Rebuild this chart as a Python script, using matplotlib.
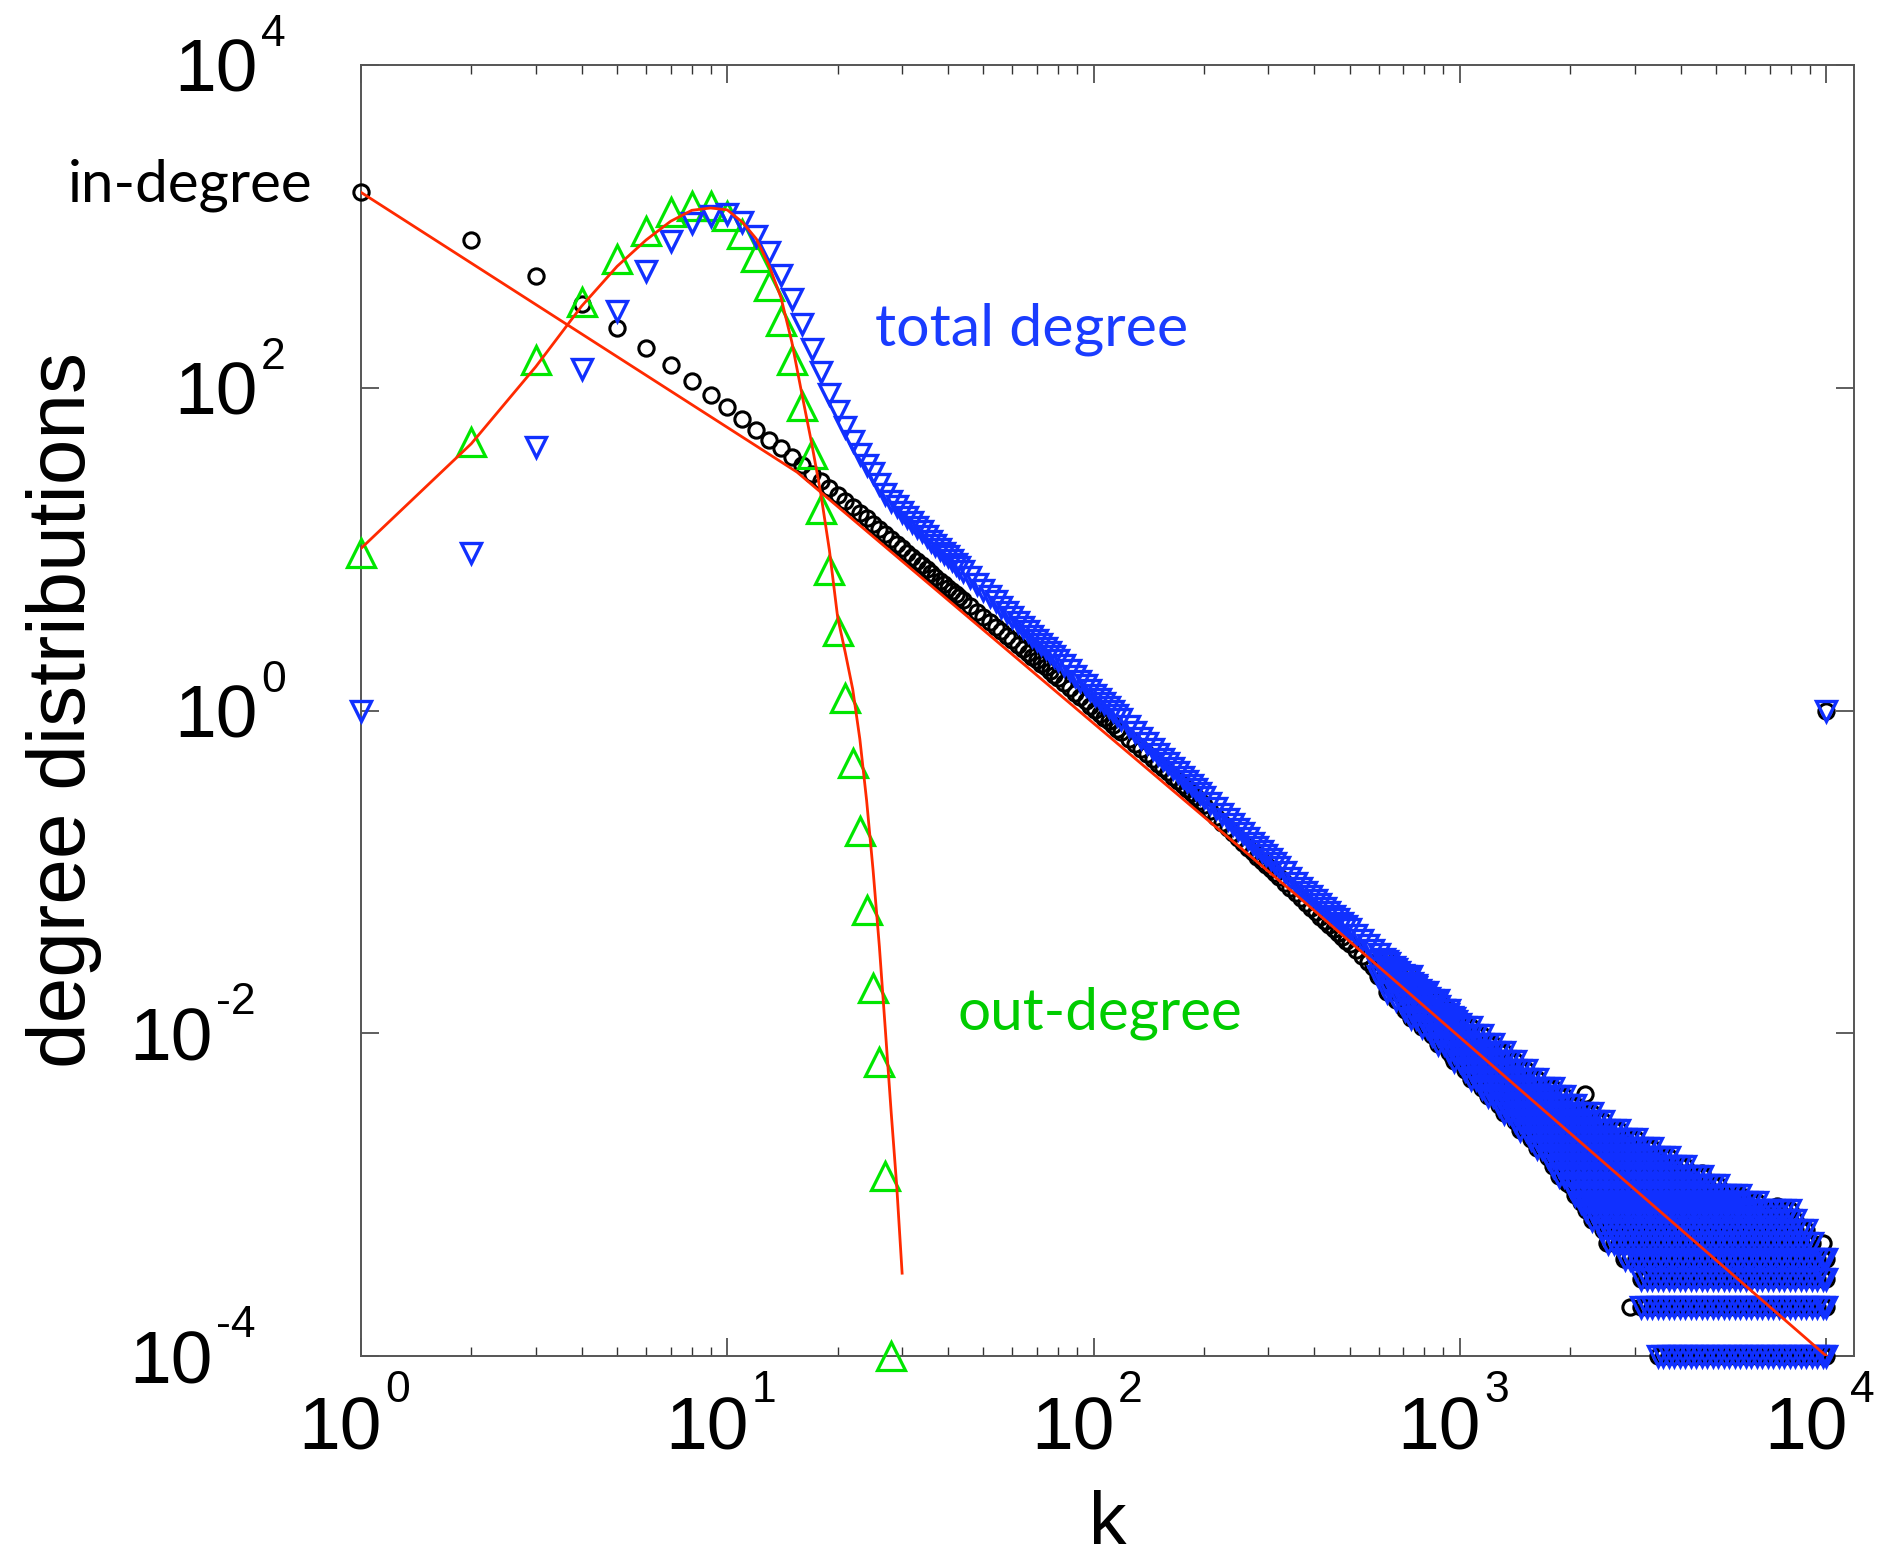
import numpy as np
import matplotlib
matplotlib.use("Agg")
import matplotlib.pyplot as plt
from matplotlib.ticker import LogLocator, NullLocator, FixedLocator

# ---------------- values ----------------
# k = 1..28, each integer shown individually
k_head = [1, 2, 3, 4, 5, 6, 7, 8, 9, 10, 11, 12, 13, 14,
          15, 16, 17, 18, 19, 20, 21, 22, 23, 24, 25, 26, 27, 28]
in_head = [1625, 828, 496, 330, 235, 176, 139, 110, 89.6, 75.8, 64.3, 55.0, 47.7, 42.3,
           37.2, 33.0, 29.4, 26.5, 23.9, 21.7, 19.9, 18.2, 16.7, 15.5, 14.3, 13.3, 12.4, 11.6]
total_head = [1.0, 9.4, 42.9, 131, 297, 532, 809, 1046, 1164, 1195, 1060, 877, 690, 503,
              356, 249, 174, 125, 92, 72, 57, 46.7, 39, 33, 29.5, 25.3, 22.0, 20.0]
out_deg = [9.4, 46, 148, 339, 628, 941, 1222, 1343, 1343, 1165, 898, 644, 430, 261,
           148, 77.6, 39, 17.8, 7.4, 3.1, 1.2, 0.47, 0.18, 0.058, 0.019, 0.0066, 0.0013, 1e-4]

# middle part, where the markers overlap into a chain / band
k_mid = [29, 30, 31, 32, 33, 34, 35, 36, 37, 38, 39, 40, 41, 42, 43, 44,
         46, 48, 50, 52, 54, 56, 58, 60, 62, 64, 66, 68, 70, 72, 74, 76, 78, 80,
         83, 86, 89, 92, 95, 98, 101, 104, 107, 110, 113, 116, 119,
         125, 130, 135, 140, 145, 150, 155, 160, 165, 170, 175, 180, 185, 190, 195, 200,
         208, 216, 224, 232, 240, 248, 256, 264, 272, 280, 288, 296, 304, 312, 320,
         332, 344, 356, 368, 380, 392, 404, 416, 428, 440, 452, 464, 476, 488, 500,
         520, 540, 560, 580, 600, 620, 640, 660, 680, 700, 720, 740, 760, 780, 800,
         825, 850, 875, 900, 925, 950, 975, 1000]
in_mid = [10.8, 10.1, 9.51, 8.93, 8.41, 7.94, 7.50, 7.10, 6.73, 6.38, 6.07, 5.78, 5.51,
          5.26, 5.02, 4.82,
          4.44, 4.10, 3.80, 3.54, 3.30, 3.09, 2.89, 2.72, 2.56, 2.41, 2.28, 2.16, 2.05,
          1.94, 1.85, 1.75, 1.67, 1.59,
          1.48, 1.38, 1.29, 1.21, 1.14, 1.07, 1.01, 0.953, 0.902, 0.855, 0.811, 0.771, 0.734,
          0.667, 0.618, 0.574, 0.535, 0.500, 0.468, 0.440, 0.413, 0.389, 0.367, 0.346,
          0.325, 0.306, 0.289, 0.274, 0.259,
          0.237, 0.219, 0.202, 0.187, 0.174, 0.162, 0.151, 0.141, 0.132, 0.124, 0.117,
          0.110, 0.104, 0.0982, 0.0929,
          0.0857, 0.0793, 0.0736, 0.0686, 0.0640, 0.0598, 0.0561, 0.0526, 0.0495, 0.0467,
          0.0441, 0.0416, 0.0394, 0.0373, 0.0355,
          0.0326, 0.0301, 0.0278, 0.0258, 0.0239, 0.0223, 0.0208, 0.0195, 0.0183, 0.0172,
          0.0162, 0.0153, 0.0144, 0.0136, 0.0129,
          0.0121, 0.0113, 0.0106, 0.0100, 0.00944, 0.00891, 0.00843, 0.00798]
total_mid = [18.5, 17.1, 15.9, 14.8, 13.8, 12.9, 12.1, 11.3, 10.6, 10.0, 9.51, 9.02, 8.55,
             8.13, 7.73, 7.36,
             6.70, 6.11, 5.61, 5.15, 4.75, 4.40, 4.08, 3.80, 3.55, 3.31, 3.10, 2.91, 2.74,
             2.58, 2.43, 2.30, 2.17, 2.06,
             1.91, 1.77, 1.64, 1.53, 1.43, 1.34, 1.25, 1.18, 1.11, 1.05, 0.986, 0.933, 0.885,
             0.796, 0.733, 0.676, 0.625, 0.581, 0.540, 0.504, 0.471, 0.441, 0.414, 0.389,
             0.366, 0.345, 0.326, 0.309, 0.292,
             0.269, 0.248, 0.230, 0.213, 0.198, 0.185, 0.173, 0.162, 0.152, 0.143, 0.135,
             0.127, 0.120, 0.113, 0.107,
             0.0993, 0.0920, 0.0857, 0.0800, 0.0750, 0.0706, 0.0665, 0.0630, 0.0596, 0.0564,
             0.0535, 0.0508, 0.0483, 0.0460, 0.0440,
             0.0407, 0.0378, 0.0352, 0.0329, 0.0308, 0.0289, 0.0272, 0.0256, 0.0241, 0.0228,
             0.0216, 0.0205, 0.0194, 0.0185, 0.0176,
             0.0166, 0.0156, 0.0148, 0.0140, 0.0132, 0.0126, 0.0119, 0.0114]

# noisy tail: k positions and the horizontal count levels seen in the picture
tail_k = [596, 631, 668, 708, 733, 759, 786, 813, 841, 871, 902, 933, 966, 1000, 1035,
          1072, 1109, 1148, 1189, 1230, 1274, 1318, 1365, 1413, 1462, 1514, 1567, 1622,
          1679, 1738, 1799, 1862, 1928, 1995, 2065, 2138, 2213, 2291, 2371, 2455, 2541,
          2630, 2723, 2818, 2917, 3020, 3126, 3236, 3350, 3467, 3589, 3715, 3846, 3981,
          4121, 4266, 4416, 4571, 4732, 4898, 5070, 5248, 5433, 5623, 5821, 6026, 6237,
          6457, 6683, 6918, 7161, 7413, 7674, 7943, 8222, 8511, 8810, 9120, 9441, 9772,
          10000]
tail_level = [1e-4, 2e-4, 3e-4, 4e-4, 5e-4, 6e-4, 7e-4, 8e-4, 9e-4, 1.0e-3, 1.15e-3,
              1.3e-3, 1.5e-3, 1.7e-3, 1.95e-3, 2.2e-3, 2.5e-3, 2.85e-3, 3.2e-3, 3.6e-3,
              4.1e-3, 4.6e-3, 5.2e-3, 5.9e-3, 6.7e-3, 7.6e-3, 8.6e-3, 9.7e-3, 1.1e-2,
              1.25e-2, 1.4e-2, 1.6e-2, 1.8e-2, 2.0e-2, 2.25e-2, 2.5e-2, 2.8e-2]
tail_kmin = [3430, 3030, 3100, 2770, 2520, 2390, 2270, 2180, 2090, 2020, 1930, 1850, 1750,
             1680, 1600, 1530, 1455, 1380, 1310, 1250, 1185, 1130, 1070, 1010, 955, 904,
             859, 815, 774, 733, 698, 668, 631, 631, 596, 596, 596]
tail_kmax = [10000, 10000, 10000, 10000, 9420, 8850, 8490, 8120, 6600, 5850, 5200, 4700,
             4170, 3770, 3370, 3070, 2760, 2490, 2310, 2130, 1955, 1810, 1670, 1535, 1435,
             1335, 1245, 1160, 1080, 996, 946, 881, 828, 783, 736, 690, 640]

in_extra_k = [950, 1143, 1480, 1955, 2190, 2520, 2800, 2920, 3180, 4570, 7330, 9800, 10000]
in_extra_y = [7.2e-3, 4.8e-3, 2.5e-3, 1.18e-3, 4.2e-3, 5e-4, 4e-4, 2e-4, 3e-4, 1.36e-3,
              8.5e-4, 5e-4, 1.0]
total_extra_k = [10000]
total_extra_y = [1.0]

# fitted curves (red)
in_fit_k = [1, 15.5, 365, 10000]
in_fit_y = [1625, 30.0, 0.069, 1e-4]
out_fit_k = [1, 2, 3, 4, 5, 6, 7, 8, 9, 10, 11, 12, 13, 14, 15,
             16, 17, 18, 19, 20, 21, 22, 23, 24, 25, 26, 27, 28, 29, 30]
out_fit_y = [10.1, 45, 135, 320, 565, 823, 1075, 1258, 1300, 1265, 1060, 836, 571, 364, 192,
             90, 45, 22, 9.8, 3.8, 2.27, 1.35, 0.665, 0.277, 0.102, 0.0346, 0.0105, 0.00326,
             0.00113, 3.26e-4]

RED = '#ff2a00'
GREEN = '#00e600'
BLUE = '#1030ff'
TICKFONT = 'Liberation Sans'

# build the tail bands
tk_arr = np.array(tail_k)
tail_kk, tail_yy = [], []
for lev, lo, hi in zip(tail_level, tail_kmin, tail_kmax):
    sel = tk_arr[(tk_arr >= lo) & (tk_arr <= hi)]
    tail_kk.extend(sel.tolist())
    tail_yy.extend([lev] * len(sel))

in_k = k_head + k_mid + tail_kk + in_extra_k
in_y = in_head + in_mid + tail_yy + in_extra_y
total_k = k_head + k_mid + tail_kk + total_extra_k
total_y = total_head + total_mid + tail_yy + total_extra_y

fig = plt.figure(figsize=(18.8, 15.63), dpi=100)
ax = fig.add_axes([361 / 1880, 1 - 1356 / 1563, (1854 - 361) / 1880, (1356 - 65) / 1563])
ax.set_xscale('log')
ax.set_yscale('log')

ax.plot(in_k, in_y, ls='none', marker='o', ms=11, mfc='none', mec='black', mew=2.2,
        clip_on=False, zorder=3)
ax.plot(k_head, out_deg, ls='none', marker='^', ms=20, mfc='none', mec=GREEN, mew=2.3,
        clip_on=False, zorder=3)
ax.plot(total_k, total_y, ls='none', marker='v', ms=14, mfc='none', mec=BLUE, mew=2.4,
        clip_on=False, zorder=3.1)
ax.plot(in_fit_k, in_fit_y, color=RED, lw=2.0, zorder=4)
ax.plot(out_fit_k, out_fit_y, color=RED, lw=2.0, zorder=4)

ax.set_xlim(1, 1.19e4)
ax.set_ylim(1e-4, 1e4)

ax.xaxis.set_major_locator(LogLocator(base=10, numticks=10))
ax.xaxis.set_minor_locator(LogLocator(base=10, subs=np.arange(2, 10), numticks=20))
ax.yaxis.set_major_locator(FixedLocator([1e-4, 1e-2, 1, 1e2, 1e4]))
ax.yaxis.set_minor_locator(NullLocator())
ax.tick_params(which='both', direction='in', top=True, right=True,
               labelbottom=False, labelleft=False, color='#333333')
ax.tick_params(which='major', length=13, width=1.1)
ax.tick_params(which='minor', length=6.5, width=1.0)
for sp in ax.spines.values():
    sp.set_color('#555555')
    sp.set_linewidth(1.4)

# tick labels: "10" with a raised exponent
for e in range(0, 5):
    ax.annotate('10', xy=(10.0 ** e, 0), xycoords=ax.get_xaxis_transform(),
                xytext=(21, -94), textcoords='offset pixels', ha='right', va='baseline',
                fontsize=54, family=TICKFONT)
    ax.annotate(str(e), xy=(10.0 ** e, 0), xycoords=ax.get_xaxis_transform(),
                xytext=(24, -46), textcoords='offset pixels', ha='left', va='baseline',
                fontsize=32, family=TICKFONT)
for e in [-4, -2, 0, 2, 4]:
    right = -103 if e >= 0 else -148
    ax.annotate('10', xy=(0, 10.0 ** e), xycoords=ax.get_yaxis_transform(),
                xytext=(right, -27), textcoords='offset pixels', ha='right', va='baseline',
                fontsize=54, family=TICKFONT)
    ax.annotate(str(e), xy=(0, 10.0 ** e), xycoords=ax.get_yaxis_transform(),
                xytext=(right + 3, 19), textcoords='offset pixels', ha='left', va='baseline',
                fontsize=32, family=TICKFONT)

ax.annotate('k', xy=(0.5, 0), xycoords='axes fraction', xytext=(0, -188),
            textcoords='offset pixels', ha='center', va='baseline', fontsize=54,
            family=TICKFONT)
ax.annotate('degree distributions', xy=(0, 0.5), xycoords='axes fraction',
            xytext=(-276, 0), textcoords='offset pixels', rotation=90,
            rotation_mode='anchor', ha='center', va='baseline', fontsize=59,
            family=TICKFONT)

ax.text(0.735, 1432, 'in-degree', ha='right', va='baseline', fontsize=42,
        family='Lato', color='black', clip_on=False)
ax.text(25.3, 183, 'total degree', ha='left', va='baseline', fontsize=42.5,
        family='Lato', color='#1a3cff')
ax.text(42.4, 0.0105, 'out-degree', ha='left', va='baseline', fontsize=42,
        family='Lato', color='#00cc00')

fig.savefig('out.png', dpi=100)
